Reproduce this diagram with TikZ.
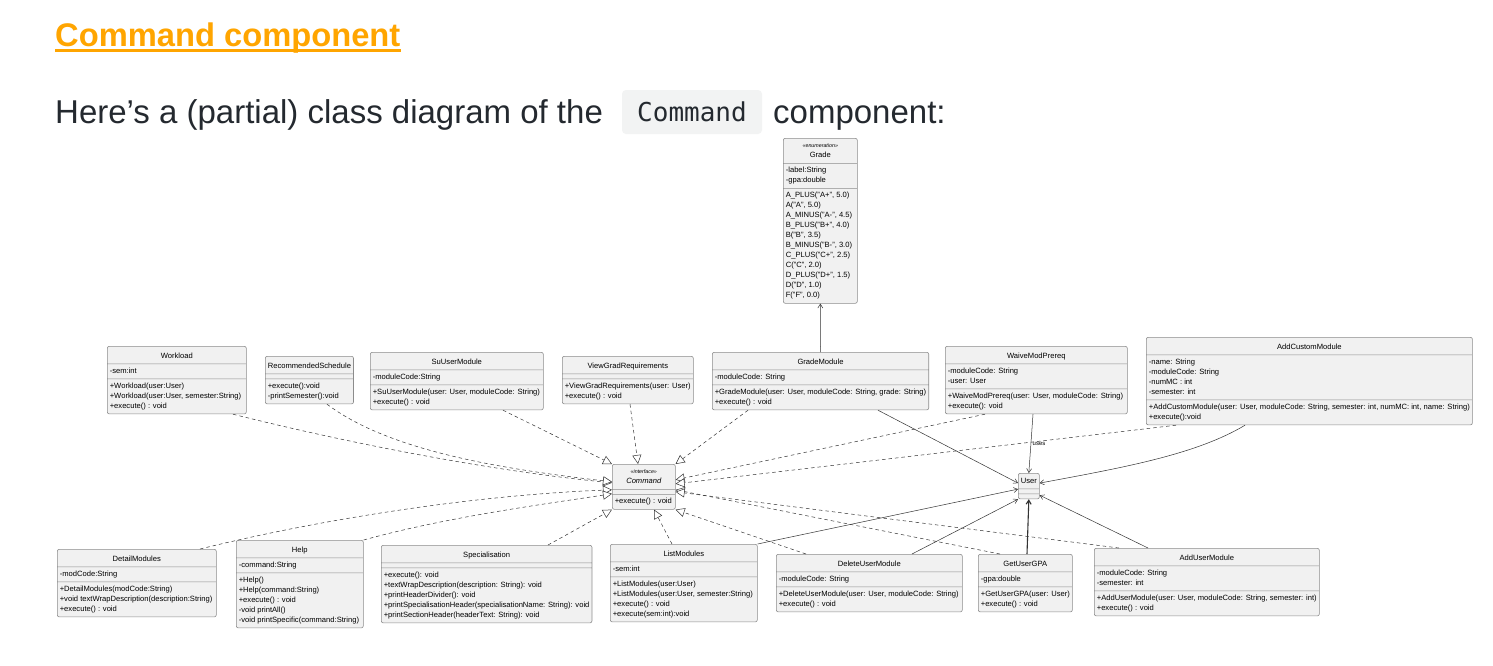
\documentclass[tikz,border=0pt]{standalone}
\usepackage{fontspec}
\setmainfont{Liberation Sans}
\setmonofont{DejaVu Sans Mono}
\usetikzlibrary{shapes.multipart,arrows.meta}

\definecolor{boxfill}{HTML}{F1F1F1}
\definecolor{boxline}{HTML}{8C8C8C}
\definecolor{conn}{HTML}{333333}
\definecolor{headorange}{HTML}{FFA500}
\definecolor{bodytext}{HTML}{24292F}
\definecolor{codebg}{HTML}{F2F3F3}

\newcommand{\ttl}[1]{\rule[-3.3pt]{0pt}{12.6pt}#1}
\newcommand{\lns}[1]{\begin{tabular}{@{}l@{}}#1\end{tabular}}
\newcommand{\stereo}[1]{{\fontsize{5.3}{6}\selectfont\itshape «#1»}}
\newcommand{\emp}{\rule{0.1pt}{0pt}}

\tikzset{
  cls/.style={rectangle split, rectangle split parts=3,
    rectangle split part align={center,left,left},
    draw=boxline, fill=boxfill, line width=0.6pt, rounded corners=2pt,
    inner xsep=2.5pt, inner ysep=2.2pt,
    font=\fontsize{7.6}{10}\selectfont, anchor=north west},
  real/.style={draw=conn, line width=0.5pt, dash pattern=on 3.5pt off 3pt,
    -{Triangle[length=9pt,width=9pt,fill=white]}},
  assoc/.style={draw=conn, line width=0.5pt,
    -{Straight Barb[length=4pt,width=5pt]}},
}

\begin{document}
\begin{tikzpicture}[x=1pt,y=-1pt]
\fill[white] (0,0) rectangle (1493,665);
\useasboundingbox (0,0) rectangle (1493,665);

% heading
\node[anchor=base west, inner sep=0pt, text=headorange,
      font=\fontsize{32.7}{38}\selectfont\bfseries] (head) at (55,46) {Command component};
\draw[headorange, line width=2.5pt] ([yshift=-4.5pt]head.base west) -- ([yshift=-4.5pt]head.base east);

\node[anchor=base west, inner sep=0pt, text=bodytext,
      font=\fontsize{33}{40}\selectfont] (sub1) at (55,123) {Here’s a (partial) class diagram of the};
\node[fill=codebg, rounded corners=4pt, minimum width=140pt, minimum height=44pt,
      inner sep=0pt, text=bodytext, font=\ttfamily\fontsize{26}{30}\selectfont] (code) at (692,112) {Command};
\node[anchor=base west, inner sep=0pt, text=bodytext,
      font=\fontsize{33}{40}\selectfont] (sub2) at (773,123) {component:};

% classes
\node[cls, minimum width=74pt] (gr) at (783,138) {%
  \begin{tabular}{@{}c@{}}\stereo{enumeration}\\Grade\end{tabular}%
  \nodepart{two}\lns{-label:String\\-gpa:double}%
  \nodepart{three}\lns{A\_PLUS("A+", 5.0)\\A("A", 5.0)\\A\_MINUS("A-", 4.5)\\B\_PLUS("B+", 4.0)\\B("B", 3.5)\\B\_MINUS("B-", 3.0)\\C\_PLUS("C+", 2.5)\\C("C", 2.0)\\D\_PLUS("D+", 1.5)\\D("D", 1.0)\\F("F", 0.0)}};

\node[cls, minimum width=139pt] (wl) at (107,346) {\ttl{Workload}%
  \nodepart{two}\lns{-sem:int}%
  \nodepart{three}\lns{+Workload(user:User)\\+Workload(user:User, semester:String)\\+execute() : void}};

\node[cls, minimum width=86pt] (rs) at (265,356) {\ttl{RecommendedSchedule}%
  \nodepart{two}\emp%
  \nodepart{three}\lns{+execute():void\\-printSemester():void}};

\node[cls, minimum width=173pt] (su) at (370,352) {\ttl{SuUserModule}%
  \nodepart{two}\lns{-moduleCode:String}%
  \nodepart{three}\lns{+SuUserModule(user: User, moduleCode: String)\\+execute() : void}};

\node[cls, minimum width=131pt] (vg) at (562,356) {\ttl{ViewGradRequirements}%
  \nodepart{two}\emp%
  \nodepart{three}\lns{+ViewGradRequirements(user: User)\\+execute() : void}};

\node[cls, minimum width=215pt] (gm) at (712,352) {\ttl{GradeModule}%
  \nodepart{two}\lns{-moduleCode: String}%
  \nodepart{three}\lns{+GradeModule(user: User, moduleCode: String, grade: String)\\+execute() : void}};

\node[cls, minimum width=182pt] (wm) at (945,346) {\ttl{WaiveModPrereq}%
  \nodepart{two}\lns{-moduleCode: String\\-user: User}%
  \nodepart{three}\lns{+WaiveModPrereq(user: User, moduleCode: String)\\+execute(): void}};

\node[cls, minimum width=323pt] (acm) at (1146,337) {\ttl{AddCustomModule}%
  \nodepart{two}\lns{-name: String\\-moduleCode: String\\-numMC : int\\-semester: int}%
  \nodepart{three}\lns{+AddCustomModule(user: User, moduleCode: String, semester: int, numMC: int, name: String)\\+execute():void}};

\node[cls, minimum width=63pt] (cmd) at (612,464) {%
  \begin{tabular}{@{}c@{}}\stereo{interface}\\\itshape Command\end{tabular}%
  \nodepart{two}\emp%
  \nodepart{three}\lns{+execute() : void}};

\node[cls, minimum width=20pt] (usr) at (1018,473) {\rule[-3pt]{0pt}{10.6pt}User%
  \nodepart{two}\emp%
  \nodepart{three}\emp};

\node[cls, minimum width=159pt] (dm) at (57,549) {\ttl{DetailModules}%
  \nodepart{two}\lns{-modCode:String}%
  \nodepart{three}\lns{+DetailModules(modCode:String)\\+void textWrapDescription(description:String)\\+execute() : void}};

\node[cls, minimum width=127pt] (hp) at (236,540) {\ttl{Help}%
  \nodepart{two}\lns{-command:String}%
  \nodepart{three}\lns{+Help()\\+Help(command:String)\\+execute() : void\\-void printAll()\\-void printSpecific(command:String)}};

\node[cls, minimum width=210pt] (sp) at (381,545) {\ttl{Specialisation}%
  \nodepart{two}\emp%
  \nodepart{three}\lns{+execute(): void\\+textWrapDescription(description: String): void\\+printHeaderDivider(): void\\+printSpecialisationHeader(specialisationName: String): void\\+printSectionHeader(headerText: String): void}};

\node[cls, minimum width=147pt] (lm) at (610,544) {\ttl{ListModules}%
  \nodepart{two}\lns{-sem:int}%
  \nodepart{three}\lns{+ListModules(user:User)\\+ListModules(user:User, semester:String)\\+execute() : void\\+execute(sem:int):void}};

\node[cls, minimum width=186pt] (du) at (776,554) {\ttl{DeleteUserModule}%
  \nodepart{two}\lns{-moduleCode: String}%
  \nodepart{three}\lns{+DeleteUserModule(user: User, moduleCode: String)\\+execute() : void}};

\node[cls, minimum width=90pt] (gg) at (978,554) {\ttl{GetUserGPA}%
  \nodepart{two}\lns{-gpa:double}%
  \nodepart{three}\lns{+GetUserGPA(user: User)\\+execute() : void}};

\node[cls, minimum width=225pt] (aum) at (1094,548) {\ttl{AddUserModule}%
  \nodepart{two}\lns{-moduleCode: String\\-semester: int}%
  \nodepart{three}\lns{+AddUserModule(user: User, moduleCode: String, semester: int)\\+execute() : void}};

% realizations
\draw[real] ([xshift=126pt]wl.south west) .. controls +(120,30) and +(-120,-12) .. ([yshift=4pt]cmd.west);
\draw[real] ([xshift=62pt]rs.south west) .. controls +(60,45) and +(-120,-14) .. ([yshift=5pt]cmd.west);
\draw[real] ([xshift=133pt]su.south west) -- (cmd.north west);
\draw[real] ([xshift=68pt]vg.south west) -- ([xshift=26pt]cmd.north west);
\draw[real] ([xshift=36pt]gm.south west) -- (cmd.north east);
\draw[real] ([xshift=40pt]wm.south west) -- ([yshift=7pt]cmd.east);
\draw[real] ([xshift=30pt]acm.south west) -- ([yshift=3pt]cmd.east);
\draw[real] ([xshift=143pt]dm.north west) .. controls +(130,-32) and +(-130,5) .. ([yshift=-3pt]cmd.west);
\draw[real] (hp.north east) .. controls +(80,-22) and +(-80,12) .. ([yshift=-7pt]cmd.west);
\draw[real] ([xshift=167pt]sp.north west) -- (cmd.south west);
\draw[real] ([xshift=62pt]lm.north west) -- ([xshift=42pt]cmd.south west);
\draw[real] ([xshift=30pt]du.north west) -- (cmd.south east);
\draw[real] ([xshift=22pt]gg.north west) -- ([yshift=-3pt]cmd.east);
\draw[real] ([xshift=25pt]aum.north west) -- ([yshift=-5pt]cmd.east);

% associations
\draw[assoc] (gm.north) -- (gr.south);
\draw[assoc] ([xshift=166pt]gm.south west) -- ([yshift=3pt]usr.west);
\draw[assoc] ([xshift=88pt]wm.south west) -- node[right, inner sep=1.5pt, font=\fontsize{6}{7}\selectfont] (useslbl) {uses} (usr.north);
\draw[assoc] ([xshift=99pt]acm.south west) .. controls +(-50,30) and +(80,-15) .. ([yshift=3pt]usr.east);
\draw[assoc] (lm.north east) -- ([yshift=-3pt]usr.west);
\draw[assoc] ([xshift=136pt]du.north west) -- (usr.south west);
\draw[assoc, line width=1.1pt] ([xshift=49pt]gg.north west) -- (usr.south);
\draw[assoc] ([xshift=54pt]aum.north west) -- ([yshift=4pt]usr.south east);
\end{tikzpicture}
\end{document}
